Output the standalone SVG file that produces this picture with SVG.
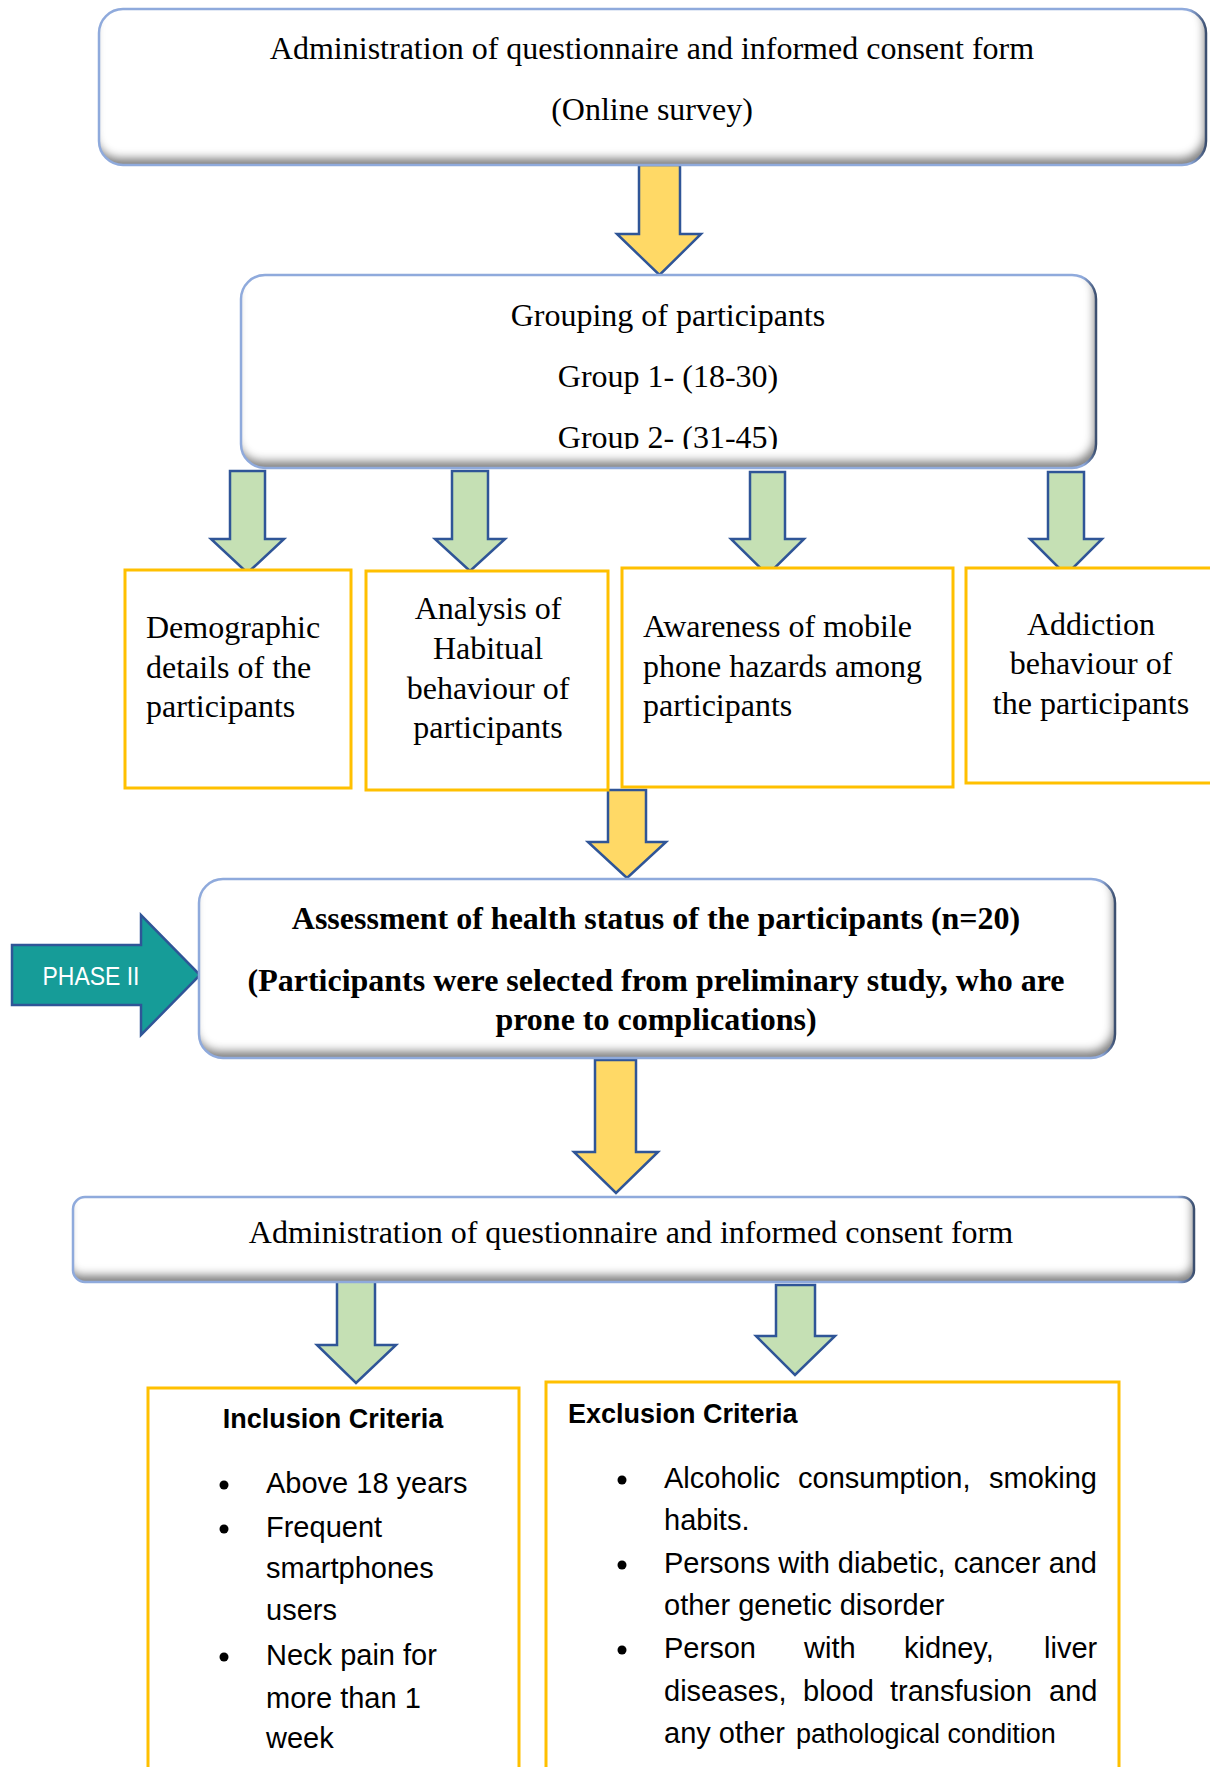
<svg xmlns="http://www.w3.org/2000/svg" width="1210" height="1767" viewBox="0 0 1210 1767">
<style>
  .serif { font-family: "Liberation Serif", "Times New Roman", serif; font-size: 32px; fill: #000; }
  .bold { font-weight: bold; }
  .mid { text-anchor: middle; }
  .sans { font-family: "Liberation Sans", Arial, sans-serif; font-size: 29px; fill: #000; }
  .head { font-family: "Liberation Sans", Arial, sans-serif; font-size: 27px; font-weight: bold; fill: #000; }
  .fill { fill: #ffffff; stroke: none; }
  .edge { fill: none; stroke: url(#edgeGrad); stroke-width: 2.5; }
  .obox { fill: #ffffff; stroke: #FFC000; stroke-width: 3; }
  .yarrow { fill: #FFD966; stroke: #2F5597; stroke-width: 2.5; stroke-linejoin: miter; }
  .garrow { fill: #C5E0B4; stroke: #2F5597; stroke-width: 2.5; stroke-linejoin: miter; }
  .bullet { fill: #000; }
</style>
<defs>
  <linearGradient id="edgeGrad" x1="0" y1="0" x2="1" y2="0">
    <stop offset="0" stop-color="#8FAADC"/>
    <stop offset="0.985" stop-color="#8FAADC"/>
    <stop offset="1" stop-color="#3B4E6E"/>
  </linearGradient>
  <filter id="bevel" x="-3%" y="-10%" width="106%" height="120%">
    <feGaussianBlur in="SourceAlpha" stdDeviation="4" result="blur"/>
    <feOffset in="blur" dx="-3" dy="-8" result="off"/>
    <feComposite in="SourceAlpha" in2="off" operator="out" result="inner"/>
    <feFlood flood-color="#6b6b6b" flood-opacity="0.9"/>
    <feComposite in2="inner" operator="in" result="shade"/>
    <feMerge><feMergeNode in="SourceGraphic"/><feMergeNode in="shade"/></feMerge>
  </filter>
  <clipPath id="groupClip"><rect x="240" y="275" width="856" height="174"/></clipPath>
</defs>

<rect x="0" y="0" width="1210" height="1767" fill="#ffffff"/>

<g id="connectors">
  <polygon class="yarrow" points="639,165 680,165 680,234 701,234 659.5,275 617,234 639,234"/>
  <polygon class="garrow" points="230,471 265,471 265,539 284,539 247.5,573 211,539 230,539"/>
  <polygon class="garrow" points="452,471 488,471 488,539 505,539 470,571 435,539 452,539"/>
  <polygon class="garrow" points="750,472 785,472 785,539 804,539 767.5,575 731,539 750,539"/>
  <polygon class="garrow" points="1048,472 1084,472 1084,539 1102,539 1066,575 1030,539 1048,539"/>
  <polygon class="yarrow" points="608,790 646,790 646,842 666,842 627,878 588,842 608,842"/>
  <polygon class="yarrow" points="595,1060 636,1060 636,1152 658,1152 616,1193 574,1152 595,1152"/>
  <polygon class="garrow" points="337,1280 375,1280 375,1345 396,1345 356,1383 317,1345 337,1345"/>
  <polygon class="garrow" points="776,1285 815,1285 815,1336 835,1336 795,1375 756,1336 776,1336"/>
</g>

<g id="admin-online">
  <rect class="fill" filter="url(#bevel)" x="99" y="9" width="1107" height="156" rx="24"/>
  <rect class="edge" x="99" y="9" width="1107" height="156" rx="24"/>
  <text class="serif mid" x="652" y="59">Administration of questionnaire and informed consent form</text>
  <text class="serif mid" x="652" y="120">(Online survey)</text>
</g>

<g id="grouping">
  <rect class="fill" filter="url(#bevel)" x="241" y="275" width="855" height="193" rx="24"/>
  <rect class="edge" x="241" y="275" width="855" height="193" rx="24"/>
  <g clip-path="url(#groupClip)">
    <text class="serif mid" x="668" y="326">Grouping of participants</text>
    <text class="serif mid" x="668" y="387">Group 1- (18-30)</text>
    <text class="serif mid" x="668" y="448">Group 2- (31-45)</text>
  </g>
</g>

<g id="demographic">
  <rect class="obox" x="125" y="570" width="226" height="218"/>
  <text class="serif" x="146" y="638">Demographic</text>
  <text class="serif" x="146" y="678">details of the</text>
  <text class="serif" x="146" y="717">participants</text>
</g>

<g id="habitual">
  <rect class="obox" x="366" y="571" width="242" height="219"/>
  <text class="serif mid" x="488" y="619">Analysis of</text>
  <text class="serif mid" x="488" y="659">Habitual</text>
  <text class="serif mid" x="488" y="699">behaviour of</text>
  <text class="serif mid" x="488" y="738">participants</text>
</g>

<g id="awareness">
  <rect class="obox" x="622" y="568" width="331" height="219"/>
  <text class="serif" x="643" y="637">Awareness of mobile</text>
  <text class="serif" x="643" y="677">phone hazards among</text>
  <text class="serif" x="643" y="716">participants</text>
</g>

<g id="addiction">
  <rect class="obox" x="966" y="568" width="250" height="215"/>
  <text class="serif mid" x="1091" y="635">Addiction</text>
  <text class="serif mid" x="1091" y="674">behaviour of</text>
  <text class="serif mid" x="1091" y="714">the participants</text>
</g>

<g id="phase2">
  <polygon points="12,945 141,945 141,915 200,975 141,1035 141,1005 12,1005" fill="#169C98" stroke="#2F5597" stroke-width="2.5"/>
  <text x="91" y="985" text-anchor="middle" font-family="Liberation Sans, Arial, sans-serif" font-size="26" fill="#ffffff" textLength="97" lengthAdjust="spacingAndGlyphs">PHASE II</text>
</g>

<g id="assessment">
  <rect class="fill" filter="url(#bevel)" x="199" y="879" width="916" height="179" rx="24"/>
  <rect class="edge" x="199" y="879" width="916" height="179" rx="24"/>
  <text class="serif bold mid" x="656" y="929">Assessment of health status of the participants (n=20)</text>
  <text class="serif bold mid" x="656" y="991">(Participants were selected from preliminary study, who are</text>
  <text class="serif bold mid" x="656" y="1030">prone to complications)</text>
</g>

<g id="admin-2">
  <rect class="fill" filter="url(#bevel)" x="73" y="1197" width="1121" height="85" rx="12"/>
  <rect class="edge" x="73" y="1197" width="1121" height="85" rx="12"/>
  <text class="serif mid" x="631" y="1243">Administration of questionnaire and informed consent form</text>
</g>

<g id="inclusion">
  <rect class="obox" x="148" y="1388" width="371" height="400"/>
  <text class="head mid" x="333" y="1428">Inclusion Criteria</text>
  <circle class="bullet" cx="224" cy="1485" r="4.5"/>
  <circle class="bullet" cx="224" cy="1529" r="4.5"/>
  <circle class="bullet" cx="224" cy="1657" r="4.5"/>
  <text class="sans" x="266" y="1493">Above 18 years</text>
  <text class="sans" x="266" y="1537">Frequent</text>
  <text class="sans" x="266" y="1578">smartphones</text>
  <text class="sans" x="266" y="1620">users</text>
  <text class="sans" x="266" y="1665">Neck pain for</text>
  <text class="sans" x="266" y="1708">more than 1</text>
  <text class="sans" x="266" y="1748">week</text>
</g>

<g id="exclusion">
  <rect class="obox" x="546" y="1382" width="573" height="406"/>
  <text class="head" x="568" y="1423">Exclusion Criteria</text>
  <circle class="bullet" cx="622" cy="1480" r="4.5"/>
  <circle class="bullet" cx="622" cy="1565" r="4.5"/>
  <circle class="bullet" cx="622" cy="1650" r="4.5"/>
  <text class="sans" y="1488"><tspan x="664">Alcoholic</tspan><tspan x="798">consumption,</tspan><tspan x="989">smoking</tspan></text>
  <text class="sans" x="664" y="1530">habits.</text>
  <text class="sans" x="664" y="1573" textLength="433" lengthAdjust="spacing">Persons with diabetic, cancer and</text>
  <text class="sans" x="664" y="1615">other genetic disorder</text>
  <text class="sans" y="1658"><tspan x="664">Person</tspan><tspan x="804">with</tspan><tspan x="904">kidney,</tspan><tspan x="1044">liver</tspan></text>
  <text class="sans" y="1701"><tspan x="664">diseases,</tspan><tspan x="803">blood</tspan><tspan x="890">transfusion</tspan><tspan x="1049">and</tspan></text>
  <text class="sans" y="1743"><tspan x="664">any other</tspan><tspan x="796" font-size="27">pathological condition</tspan></text>
</g>
</svg>
